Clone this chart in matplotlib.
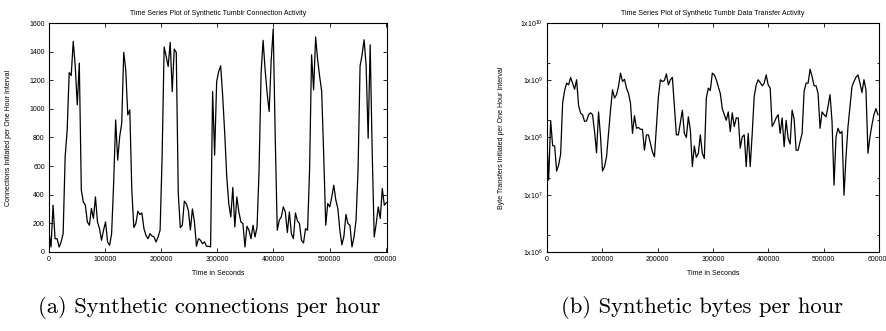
import matplotlib
matplotlib.use("Agg")
import matplotlib.pyplot as plt
import numpy as np
from matplotlib.ticker import FixedLocator, FuncFormatter

plt.rcParams["font.family"] = ["Liberation Sans", "DejaVu Sans"]
plt.rcParams["mathtext.fontset"] = "custom"
plt.rcParams["mathtext.rm"] = "Liberation Sans"

HOUR = 3600

# connections initiated per one hour interval (synthetic Tumblr trace)
connections = [
    140, 35, 327, 93, 93, 35, 70, 128, 666, 852, 1254, 1233, 1472, 1296, 1028, 1320,
    432, 350, 327, 210, 187, 304, 234, 385, 210, 163, 82, 152, 210, 70, 47, 128,
    479, 923, 642, 806, 899, 1395, 1273, 958, 993, 432, 171, 199, 285, 262, 273, 163,
    117, 93, 128, 112, 105, 70, 105, 152, 666, 1432, 1367, 1296, 1465, 1121, 1418, 1395,
    409, 171, 187, 355, 336, 290, 154, 301, 210, 40, 93, 82, 58, 70, 40, 40,
    35, 1121, 677, 1191, 1261, 1301, 1086, 829, 526, 339, 245, 451, 175, 385, 280, 210,
    199, 35, 180, 152, 93, 187, 105, 175, 572, 1250, 1479, 1273, 1109, 981, 1340, 1560,
    800, 152, 222, 245, 315, 280, 136, 280, 128, 93, 273, 217, 199, 82, 63, 163,
    152, 572, 1378, 1133, 1502, 1343, 1226, 1121, 676, 187, 339, 315, 385, 467, 362, 304,
    150, 50, 110, 262, 199, 187, 35, 105, 222, 572, 1300, 1378, 1483, 1300, 795, 1448,
    700, 105, 199, 315, 234, 444, 327, 345,
]

# bytes transferred per one hour interval
bytes_moved = [
    1.11e8, 1.8e7, 1.97e8, 7.2e7, 7.1e7, 2.6e7, 3.3e7, 5.1e7, 4.0e8, 6.6e8,
    8.9e8, 8.3e8, 1.12e9, 8.9e8, 7.0e8, 1.02e9, 3.6e8, 2.65e8, 2.5e8, 1.9e8,
    1.95e8, 2.5e8, 2.7e8, 2.5e8, 1.27e8, 5.4e7, 2.8e8, 1.03e8, 2.6e7, 3.1e7,
    4.6e7, 1.18e8, 3.0e8, 6.8e8, 4.9e8, 5.6e8, 7.8e8, 1.33e9, 9.5e8, 1.04e9,
    7.3e8, 5.9e8, 4.0e8, 1.18e8, 2.4e8, 1.45e8, 1.5e8, 1.39e8, 1.39e8, 6.0e7,
    1.11e8, 1.11e8, 7.9e7, 5.6e7, 4.6e7, 1.55e8, 5.2e8, 1.02e9, 9.5e8, 9.9e8,
    1.29e9, 8.3e8, 1.02e9, 1.12e9, 3.5e8, 1.11e8, 1.11e8, 1.82e8, 3.0e8, 1.18e8,
    1.0e8, 2.3e8, 1.35e8, 3.1e7, 7.1e7, 4.5e7, 5.3e7, 1.11e8, 5.3e7, 4.3e7,
    4.9e8, 7.3e8, 6.6e8, 1.33e9, 1.24e9, 1.02e9, 7.8e8, 5.9e8, 3.2e8, 2.5e8,
    2.0e8, 2.8e8, 1.27e8, 2.7e8, 1.55e8, 2.2e8, 2.2e8, 6.5e7, 1.03e8, 1.11e8,
    3.1e7, 1.18e8, 3.1e7, 1.18e8, 5.2e8, 8.3e8, 1.02e9, 9.1e8, 8.0e8, 8.9e8,
    1.24e9, 8.3e8, 7.3e8, 1.55e8, 1.82e8, 2.2e8, 2.5e8, 1.18e8, 2.2e8, 6.9e7,
    2.0e8, 9.7e7, 7.7e7, 3.0e8, 2.1e8, 6.0e7, 6.0e7, 8.5e7, 1.18e8, 6.4e8,
    8.9e8, 8.9e8, 1.56e9, 1.16e9, 8.0e8, 8.0e8, 5.9e8, 1.45e8, 2.8e8, 2.5e8,
    2.3e8, 3.5e8, 5.6e8, 1.9e8, 1.47e7, 1.03e8, 1.45e8, 1.18e8, 1.27e8, 9.8e6,
    4.6e7, 1.55e8, 3.5e8, 7.8e8, 9.5e8, 1.13e9, 1.24e9, 8.9e8, 6.1e8, 1.02e9,
    6.8e8, 5.3e7, 1.03e8, 1.66e8, 2.5e8, 3.2e8, 2.5e8,
]

x_ticks = [0, 100000, 200000, 300000, 400000, 500000, 600000]
conn_ticks = [0, 200, 400, 600, 800, 1000, 1200, 1400, 1600]
byte_ticks = [1e6, 1e7, 1e8, 1e9, 1e10]
byte_minor = [2e6, 2e7, 2e8, 2e9]

t_conn = np.arange(len(connections)) * HOUR
t_bytes = np.arange(len(bytes_moved)) * HOUR

FS = 5


def style_axes(ax):
    ax.tick_params(which="both", direction="in", top=True, right=True,
                   labelsize=FS, pad=3, width=0.6)
    ax.tick_params(which="major", length=3)
    ax.tick_params(which="minor", length=1.8)
    for sp in ax.spines.values():
        sp.set_linewidth(0.8)
    ax.set_xticks(x_ticks)
    ax.set_xticklabels([str(v) for v in x_ticks])
    ax.set_xlabel("Time in Seconds", fontsize=FS)
    ax.xaxis.set_label_coords(0.5, -0.08)


fig = plt.figure(figsize=(8.86, 3.31), dpi=100)

ax1 = fig.add_axes([0.0553, 0.2387, 0.3815, 0.6918])
ax1.plot(t_conn, connections, color="black", lw=0.9)
ax1.set_xlim(0, 602400)
ax1.set_ylim(0, 1600)
ax1.set_yticks(conn_ticks)
style_axes(ax1)
ax1.set_title("Time Series Plot of Synthetic Tumblr Connection Activity",
              fontsize=FS, pad=6)
ax1.set_ylabel("Connections Initiated per One Hour Interval", fontsize=FS)
ax1.yaxis.set_label_coords(-0.11, 0.5)

ax2 = fig.add_axes([0.617, 0.2387, 0.3754, 0.6918])
ax2.plot(t_bytes, bytes_moved, color="black", lw=0.9)
ax2.set_yscale("log")
ax2.set_xlim(0, 600000)
ax2.set_ylim(1e6, 1e10)
ax2.yaxis.set_major_locator(FixedLocator(byte_ticks))
ax2.yaxis.set_minor_locator(FixedLocator(byte_minor))
ax2.yaxis.set_major_formatter(
    FuncFormatter(lambda v, p: r"1x10$^{\mathregular{%d}}$" % round(np.log10(v))))
ax2.yaxis.set_minor_formatter(FuncFormatter(lambda v, p: ""))
style_axes(ax2)
ax2.set_title("Time Series Plot of Synthetic Tumblr Data Transfer Activity",
              fontsize=FS, pad=6)
ax2.set_ylabel("Byte Transfers Initiated per One Hour Interval", fontsize=FS)
ax2.yaxis.set_label_coords(-0.125, 0.5)

fig.text(0.236, 0.072, "(a) Synthetic connections per hour", family="cmr10",
         fontsize=16.3, ha="center", va="center")
fig.text(0.792, 0.072, "(b) Synthetic bytes per hour", family="cmr10",
         fontsize=16.3, ha="center", va="center")

fig.savefig("out.png", dpi=100)
